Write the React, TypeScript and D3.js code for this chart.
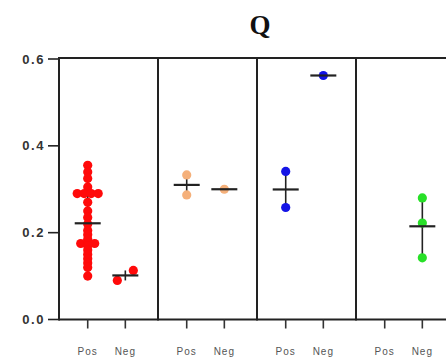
import React from "react";
import * as d3 from "d3";

// Panels, groups and per-panel colours
const panels = ["A", "B", "C", "D"];
const groups = ["Pos", "Neg"];
const colors = ["#ff0a0a", "#f5b07a", "#1414e6", "#28e028"];

// Observations per panel, per group
const posValues: number[][] = [
  [0.355, 0.34, 0.325, 0.305, 0.29, 0.29, 0.29, 0.29, 0.27, 0.25, 0.235, 0.22, 0.205, 0.195,
   0.185, 0.175, 0.175, 0.175, 0.17, 0.16, 0.15, 0.14, 0.13, 0.12, 0.10],
  [0.333, 0.287],
  [0.341, 0.258],
  [],
];
const negValues: number[][] = [
  [0.09, 0.113],
  [0.30],
  [0.562],
  [0.28, 0.222, 0.142],
];

const yTicks = [0, 0.2, 0.4, 0.6];
const title = "Q";

const W = 446;
const H = 359;
const top = 59;
const bottom = 319.5;
const left = 59;
const R = 4.6;

const y = d3.scaleLinear().domain([0, 0.6]).range([bottom, top]);
const xPanel = d3.scaleBand<string>().domain(panels).range([left, 455]);
const pw = xPanel.bandwidth();
const xGroup = d3.scalePoint<string>().domain(groups).range([0.29 * pw, 0.67 * pw]);

// Points whose values fall in the same bin are spread sideways, centred on the group
function spread(values: number[], cx: number, binSize: number, gap: number) {
  const bins = d3.groups(values, (v) => Math.round(v / binSize));
  const out: { x: number; y: number }[] = [];
  bins.forEach(([, vs]) => {
    vs.forEach((v, k) => {
      out.push({ x: cx + (k - (vs.length - 1) / 2) * gap, y: y(v) });
    });
  });
  return out;
}

export default function App() {
  const items: React.ReactNode[] = [];
  panels.forEach((p, i) => {
    const x0 = xPanel(p)!;
    const sets = [posValues[i], negValues[i]];
    groups.forEach((g, gi) => {
      const vals = sets[gi];
      if (!vals.length) return;
      const cx = x0 + xGroup(g)!;
      const mean = d3.mean(vals)!;
      const [mn, mx] = d3.extent(vals) as [number, number];
      const wideBin = i === 0 && gi === 1;
      const pts = spread(vals, cx, wideBin ? 0.1 : 0.004, wideBin ? 16 : 7);
      items.push(
        <g key={`${p}-${g}`}>
          <line x1={cx} x2={cx} y1={y(mn)} y2={y(mx)} stroke="#222" strokeWidth={1.6} />
          {pts.map((pt, k) => (
            <circle key={k} cx={pt.x} cy={pt.y} r={R} fill={colors[i]} />
          ))}
          <line x1={cx - 13} x2={cx + 13} y1={y(mean)} y2={y(mean)} stroke="#222" strokeWidth={2.2} />
        </g>
      );
    });
  });

  return (
    <svg width={W} height={H} style={{ position: "absolute", left: 0, top: 0 }}>
      <rect width={W} height={H} fill="#fff" />
      <text x={260} y={34} textAnchor="middle" fontFamily="Liberation Serif, serif" fontWeight="bold" fontSize={27} fill="#111">
        {title}
      </text>
      {/* panel frames */}
      <line x1={left} x2={W} y1={top - 1} y2={top - 1} stroke="#222" strokeWidth={2} />
      <line x1={left} x2={W} y1={bottom} y2={bottom} stroke="#222" strokeWidth={2} />
      {panels.map((p) => (
        <line key={p} x1={xPanel(p)!} x2={xPanel(p)!} y1={top - 2} y2={bottom + 1} stroke="#222" strokeWidth={2} />
      ))}
      {/* y axis */}
      {yTicks.map((t) => (
        <g key={t}>
          <line x1={48} x2={left} y1={y(t)} y2={y(t)} stroke="#222" strokeWidth={1.6} />
          <text x={45} y={y(t) + 4.5} textAnchor="end" fontFamily="Liberation Sans, Arial, sans-serif" fontWeight="bold" fontSize={13} letterSpacing={1.6} fill="#333">
            {d3.format(".1f")(t)}
          </text>
        </g>
      ))}
      {/* x ticks and labels */}
      {panels.map((p) =>
        groups.map((g) => {
          const cx = xPanel(p)! + xGroup(g)!;
          return (
            <g key={p + g}>
              <line x1={cx} x2={cx} y1={bottom} y2={bottom + 9} stroke="#333" strokeWidth={1.6} />
              <text x={cx} y={355} textAnchor="middle" fontFamily="Liberation Sans, Arial, sans-serif" fontSize={10} letterSpacing={1} fill="#555">
                {g}
              </text>
            </g>
          );
        })
      )}
      {items}
    </svg>
  );
}
